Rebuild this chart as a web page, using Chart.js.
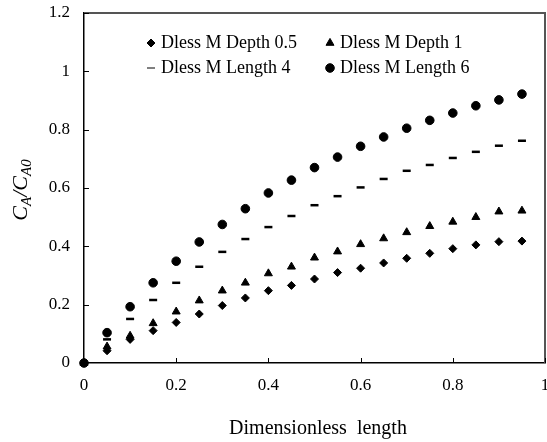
<!DOCTYPE html>
<html>
<head>
<meta charset="utf-8">
<script src="https://cdn.jsdelivr.net/npm/chart.js@4/dist/chart.umd.min.js"></script>
<style>
html, body { margin: 0; padding: 0; background: #fff; }
#wrap { width: 547px; height: 442px; }
</style>
</head>
<body>
<div id="wrap"><canvas id="chart"></canvas></div>
<script>
// データ
const xValues = [0, 0.05, 0.1, 0.15, 0.2, 0.25, 0.3, 0.35, 0.4, 0.45, 0.5, 0.55, 0.6, 0.65, 0.7, 0.75, 0.8, 0.85, 0.9, 0.95];
const depth05 = [0, 0.042, 0.081, 0.111, 0.139, 0.168, 0.197, 0.223, 0.248, 0.266, 0.288, 0.310, 0.325, 0.343, 0.359, 0.376, 0.392, 0.405, 0.416, 0.418];
const depth1 = [0, 0.056, 0.093, 0.136, 0.176, 0.214, 0.248, 0.275, 0.307, 0.330, 0.361, 0.382, 0.407, 0.427, 0.448, 0.469, 0.484, 0.500, 0.519, 0.522];
const length4 = [0, 0.081, 0.151, 0.216, 0.275, 0.330, 0.381, 0.425, 0.466, 0.504, 0.541, 0.572, 0.602, 0.631, 0.659, 0.679, 0.703, 0.724, 0.745, 0.762];
const length6 = [0, 0.104, 0.193, 0.275, 0.349, 0.415, 0.475, 0.529, 0.583, 0.627, 0.670, 0.706, 0.743, 0.775, 0.805, 0.832, 0.857, 0.882, 0.902, 0.922];
const seriesLabels = ['Dless M Depth 0.5', 'Dless M Depth 1', 'Dless M Length 4', 'Dless M Length 6'];
const xTitle = 'Dimensionless  length';

const FONT = '"Liberation Serif", "Times New Roman", serif';

function toPoints(ys) {
    return xValues.map((x, i) => ({ x: x, y: ys[i] }));
}

function makeSet(label, ys, style, radius, bw) {
    return {
        label: label,
        data: toPoints(ys),
        pointStyle: style,
        pointRadius: radius,
        pointHoverRadius: radius,
        borderWidth: bw,
        pointBorderWidth: bw,
        borderColor: '#000',
        backgroundColor: '#000',
        showLine: false,
        clip: false
    };
}

// 目盛りラベル（1.0 → 1）
function tickText(v) {
    return String(parseFloat(v.toFixed(1)));
}

// 内向きの目盛り・枠線
const framePlugin = {
    id: 'frame',
    afterDraw(chart) {
        const ctx = chart.ctx;
        const a = chart.chartArea;
        const xs = chart.scales.x, ys = chart.scales.y;
        ctx.save();
        ctx.strokeStyle = '#555';
        ctx.lineWidth = 2;
        ctx.beginPath();
        ctx.moveTo(a.left, a.top);
        ctx.lineTo(a.right, a.top);
        ctx.lineTo(a.right, a.bottom);
        ctx.stroke();
        ctx.strokeStyle = '#000';
        ctx.lineWidth = 1;
        ctx.beginPath();
        xs.ticks.forEach(t => {
            if (t.value === 0) return;
            const px = Math.round(xs.getPixelForValue(t.value)) + 0.5;
            ctx.moveTo(px, a.bottom);
            ctx.lineTo(px, a.bottom - 5);
        });
        ys.ticks.forEach(t => {
            if (t.value === 0) return;
            const py = Math.round(ys.getPixelForValue(t.value)) + 0.5;
            ctx.moveTo(a.left, py);
            ctx.lineTo(a.left + 5, py);
        });
        ctx.stroke();
        ctx.restore();
    }
};

// 凡例と軸タイトル
const textPlugin = {
    id: 'texts',
    afterDraw(chart) {
        const ctx = chart.ctx;
        ctx.save();
        ctx.fillStyle = '#000';
        ctx.textBaseline = 'middle';
        ctx.font = '18px ' + FONT;
        const spots = [[151, 43], [330, 43], [151, 68], [330, 68]];
        chart.data.datasets.forEach((ds, i) => {
            const [mx, my] = spots[i];
            Chart.helpers.drawPoint(ctx, {
                pointStyle: ds.pointStyle,
                radius: ds.pointRadius,
                rotation: 0,
                borderWidth: ds.pointBorderWidth
            }, mx, my);
            ctx.textAlign = 'left';
            ctx.fillText(ds.label, mx + 10, my);
        });

        // x軸タイトル
        ctx.font = '20px ' + FONT;
        ctx.textAlign = 'center';
        ctx.fillText(xTitle, 318, 429);

        // y軸タイトル C_A/C_A0
        ctx.translate(21, 190);
        ctx.rotate(-Math.PI / 2);
        const big = 'italic 22px ' + FONT;
        const small = 'italic 15px ' + FONT;
        const parts = [['C', big, 0], ['A', small, 6], ['/', big, 0], ['C', big, 0], ['A0', small, 6]];
        let w = 0;
        parts.forEach(p => { ctx.font = p[1]; w += ctx.measureText(p[0]).width; });
        let cx = -w / 2;
        ctx.textAlign = 'left';
        parts.forEach(p => {
            ctx.font = p[1];
            ctx.fillText(p[0], cx, p[2]);
            cx += ctx.measureText(p[0]).width;
        });
        ctx.restore();
    }
};

new Chart(document.getElementById('chart'), {
    type: 'scatter',
    data: {
        datasets: [
            makeSet(seriesLabels[0], depth05, 'rectRot', 4, 1),
            makeSet(seriesLabels[1], depth1, 'triangle', 4.6, 1),
            makeSet(seriesLabels[2], length4, 'line', 4, 2.5),
            makeSet(seriesLabels[3], length6, 'circle', 4.3, 1)
        ]
    },
    options: {
        responsive: true,
        maintainAspectRatio: false,
        animation: false,
        events: [],
        layout: {
            autoPadding: false,
            padding: { top: 13, right: 2, left: 0, bottom: 0 }
        },
        plugins: {
            legend: { display: false },
            tooltip: { enabled: false }
        },
        scales: {
            x: {
                type: 'linear',
                min: 0,
                max: 1,
                ticks: {
                    stepSize: 0.2,
                    color: '#000',
                    padding: 12,
                    maxRotation: 0,
                    callback: tickText,
                    font: { family: FONT, size: 17 }
                },
                grid: { drawOnChartArea: false, drawTicks: false },
                border: { color: '#000', width: 1.5 },
                afterFit(scale) {
                    scale.height = 79;
                    scale.paddingLeft = 0;
                    scale.paddingRight = 0;
                }
            },
            y: {
                type: 'linear',
                min: 0,
                max: 1.2,
                ticks: {
                    stepSize: 0.2,
                    color: '#000',
                    padding: 14,
                    callback: tickText,
                    font: { family: FONT, size: 17 }
                },
                grid: { drawOnChartArea: false, drawTicks: false },
                border: { color: '#000', width: 1.5 },
                afterFit(scale) {
                    scale.width = 84;
                    scale.paddingTop = 0;
                    scale.paddingBottom = 0;
                }
            }
        }
    },
    plugins: [framePlugin, textPlugin]
});
</script>
</body>
</html>
